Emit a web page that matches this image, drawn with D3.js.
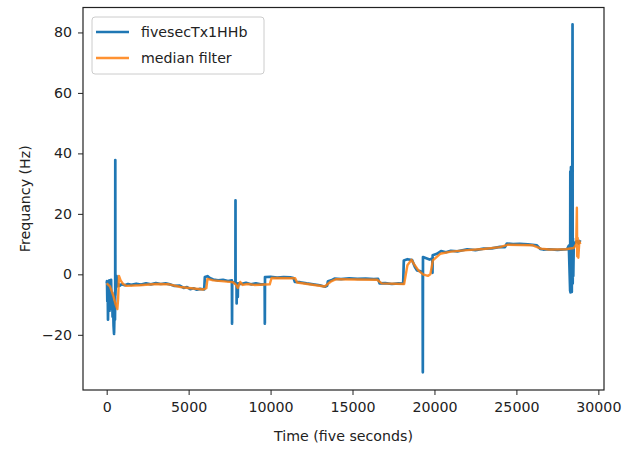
<html>
<head>
<style>
  body { margin: 0; background: #fff; }
  text { font-family: "DejaVu Sans", sans-serif; }
</style>
</head>
<body>
<svg id="chart" width="641" height="451"></svg>
<script src="https://cdn.jsdelivr.net/npm/d3@7"></script>
<script>
// raw series, [time (five seconds), frequency Hz]
const rawSeries = [
  [0,-3],[20,-2.2],[40,-9],[60,-3.5],[80,-15],[100,-6],[130,-10.5],[160,-2],[185,-12],[210,-5],
  [245,-8.5],[270,-1.8],[300,-11],[330,-6],[360,-14],[390,-9],[420,-17],[450,-19.7],[480,-12],[505,-15],
  [520,-8],[525,37.8],[530,-7],[570,-2],[600,-0.5],[640,-4],[700,-3.2],[800,-3.8],[900,-3.3],[1100,-3.6],[1300,-3.2],
  [1500,-3.5],[1800,-3.1],[2100,-3.4],[2400,-3.0],[2700,-3.3],[3000,-2.9],[3300,-3.2],[3600,-3.0],[3850,-3.3],[4100,-3.8],
  [4460,-3.7],[4700,-4.5],[4900,-4.2],[5100,-4.9],[5300,-4.6],[5500,-5.1],[5700,-4.8],[5950,-5.0],[5990,-0.9],[6150,-0.6],
  [6290,-1.2],[6500,-1.7],[6800,-2.0],[7100,-1.8],[7400,-2.2],[7640,-2.0],[7650,-16.3],[7660,-2.5],[7800,-2.8],[7855,-3],[7860,24.5],
  [7865,-3],[7925,-3],[7930,-9.6],[7940,-4],[7995,-4],[8000,-7.5],[8010,-3],[8200,-3.2],[8500,-2.8],[8800,-3.3],[9100,-3.0],[9400,-3.3],
  [9640,-3.2],[9650,-16.3],[9660,-0.9],[10000,-0.8],[10400,-1.1],[10800,-0.9],[11200,-1.0],[11400,-1.2],[11480,-2.5],[11800,-2.6],
  [12200,-3.0],[12600,-3.3],[13000,-3.6],[13320,-4.1],[13450,-3.8],[13500,-2.3],[13700,-2.0],[13900,-1.4],[14300,-1.6],[14800,-1.3],
  [15300,-1.5],[15800,-1.4],[16300,-1.6],[16560,-1.5],[16650,-3.0],[17000,-2.9],[17400,-3.2],[17800,-3.0],[18090,-3.1],[18130,4.6],
  [18350,5.0],[18640,4.7],[18800,2.5],[18940,1.3],[19150,1.0],[19280,0.5],[19290,-32.4],[19300,5.7],[19500,5.3],[19700,4.9],
  [19870,5.2],[19880,0.5],[19890,6.3],[20150,6.8],[20400,7.7],[20700,7.3],[21000,7.8],[21400,7.6],[22000,8.3],[22500,8.0],
  [23000,8.5],[23500,8.6],[24000,9.1],[24300,9.0],[24420,10.2],[24800,10.0],[25200,10.1],[25700,9.9],[26250,9.6],[26450,8.4],
  [26640,8.2],[27000,8.3],[27500,8.1],[28090,8.3],[28200,9.5],[28280,-5.5],[28290,34],[28300,-6],[28330,35.5],[28340,-4],
  [28370,20],[28380,-5.8],[28410,28],[28425,82.7],[28435,-3],[28450,12],[28470,-0.5],[28500,10],[28600,10.5],[28700,11],
  [28800,10.2],[28900,11.3]
]

// median filtered series
const medianSeries = [
  [0,-3],[200,-4],[400,-7],[550,-10],[650,-11.5],[700,-8],[750,-0.5],[850,-2],[1000,-3.2],[1200,-3.8],
  [2000,-3.6],[3000,-3.2],[3800,-3.3],[4500,-4.2],[5000,-4.5],[5900,-5],[6080,-4.6],[6150,-1.5],[6500,-2],[7500,-2.5],
  [7700,-2.6],[7900,-3.5],[8000,-4.5],[8150,-2.5],[8300,-3.5],[8600,-3.2],[9000,-3.5],[9950,-3.3],[10060,-1.2],[11500,-1.3],
  [11620,-2.7],[13300,-4],[13700,-2.3],[14000,-1.6],[16500,-1.8],[16780,-3],[18150,-3.2],[18350,3],[18600,4.8],[18800,3],
  [19020,1.3],[19300,0],[19600,-0.5],[19750,0],[19900,4.6],[20350,6.8],[21000,7.5],[22000,8],[23000,8.4],[24000,9],
  [24500,9.8],[26000,9.6],[26500,8.5],[27000,8.2],[28000,8.3],[28500,8.7],[28650,10],[28690,22],[28710,6],[28740,12],
  [28780,5.5],[28840,11],[28900,10]
]

const xTicks = [0, 5000, 10000, 15000, 20000, 25000, 30000]
const yTicks = [-20, 0, 20, 40, 60, 80]
const seriesNames = ["fivesecTx1HHb", "median filter"]
const seriesColors = ["#1f77b4", "#ff7f0e"]

let svg = d3.select("#chart")
let plotLeft = 83, plotRight = 604, plotTop = 7.5, plotBottom = 390

let x = d3.scaleLinear().domain([-1445, 30345]).range([plotLeft, plotRight])
let y = d3.scaleLinear().domain([-38.25, 88.25]).range([plotBottom, plotTop])

let line = d3.line()
    .x(d => x(d[0]))
    .y(d => y(d[1]))

let plot = svg.append("g")
plot.append("path")
    .attr("d", line(rawSeries))
    .attr("fill", "none")
    .attr("stroke", seriesColors[0])
    .attr("stroke-width", 2.7)
    .attr("stroke-linejoin", "round")
plot.append("path")
    .attr("d", line(medianSeries))
    .attr("fill", "none")
    .attr("stroke", seriesColors[1])
    .attr("stroke-opacity", 0.85)
    .attr("stroke-width", 2.4)
    .attr("stroke-linejoin", "round")

// axes
let fmt = d => d < 0 ? "\u2212" + Math.abs(d) : String(d)
svg.append("g")
    .attr("transform", `translate(0,${plotBottom})`)
    .call(d3.axisBottom(x).tickValues(xTicks).tickFormat(fmt).tickSize(5).tickPadding(7))
svg.append("g")
    .attr("transform", `translate(${plotLeft},0)`)
    .call(d3.axisLeft(y).tickValues(yTicks).tickFormat(fmt).tickSize(5).tickPadding(6))
svg.selectAll(".domain").remove()
svg.selectAll(".tick text").attr("font-size", 14.2).attr("fill", "#222").attr("font-family", "DejaVu Sans")
svg.selectAll(".tick line").attr("stroke", "#222").attr("stroke-width", 1)

// frame
svg.append("rect")
    .attr("x", plotLeft).attr("y", plotTop)
    .attr("width", plotRight - plotLeft).attr("height", plotBottom - plotTop)
    .attr("fill", "none")
    .attr("stroke", "#222")
    .attr("stroke-width", 1.2)

// labels
svg.append("text")
    .attr("x", (plotLeft + plotRight) / 2).attr("y", 441)
    .attr("text-anchor", "middle")
    .attr("font-size", 14.2).attr("fill", "#222")
    .text("Time (five seconds)")
svg.append("text")
    .attr("transform", `translate(30,${(plotTop + plotBottom) / 2}) rotate(-90)`)
    .attr("text-anchor", "middle")
    .attr("font-size", 14.2).attr("fill", "#222")
    .text("Frequancy (Hz)")

// legend
let legend = svg.append("g")
legend.append("rect")
    .attr("x", 92).attr("y", 17).attr("width", 172).attr("height", 57)
    .attr("rx", 3)
    .attr("fill", "#fff").attr("fill-opacity", 0.8)
    .attr("stroke", "#ccc")
seriesNames.forEach((name, i) => {
    let ly = 32 + i * 26
    legend.append("line")
        .attr("x1", 96).attr("x2", 129)
        .attr("y1", ly).attr("y2", ly)
        .attr("stroke", seriesColors[i])
        .attr("stroke-opacity", i == 1 ? 0.85 : 1)
        .attr("stroke-width", 2.4)
    legend.append("text")
        .attr("x", 141).attr("y", ly + 5)
        .attr("font-size", 14.2).attr("fill", "#222")
        .text(name)
})
</script>
</body>
</html>
